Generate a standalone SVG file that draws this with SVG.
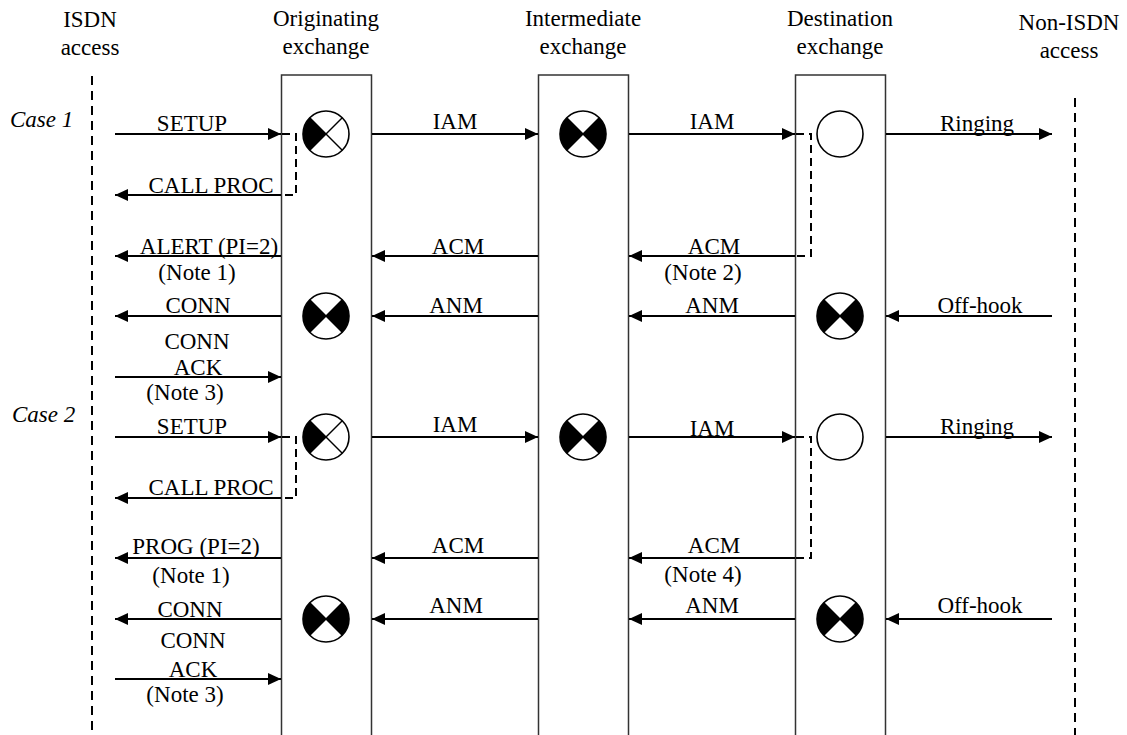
<svg xmlns="http://www.w3.org/2000/svg" width="1127" height="735" viewBox="0 0 1127 735">
<style>
text{font-family:"Liberation Serif","Times New Roman",serif;font-size:23px;fill:#000}
.c{text-anchor:middle}
.it{font-style:italic}
.box{fill:none;stroke:#333;stroke-width:1.5}
.life{stroke:#000;stroke-width:2;stroke-dasharray:9 6;fill:none}
.msg{stroke:#000;stroke-width:2.2;fill:none;marker-end:url(#ah)}
.dash{stroke:#000;stroke-width:2;stroke-dasharray:8 5;fill:none}
.sym{fill:#fff;stroke:#000;stroke-width:1.6}
.x{stroke:#000;stroke-width:1.4}
.w{fill:#000}
</style>
<defs>
<marker id="ah" markerUnits="userSpaceOnUse" markerWidth="13" markerHeight="12" refX="13" refY="6" orient="auto">
<path d="M0,0 L13,6 L0,12 Z" fill="#000"/>
</marker>
<g id="symHalf">
<circle cx="0" cy="0" r="23" class="sym"/>
<path class="w" d="M0,0 L-16.26,-16.26 A23,23 0 0 0 -16.26,16.26 Z"/>
<line class="x" x1="-16.26" y1="-16.26" x2="16.26" y2="16.26"/>
<line class="x" x1="-16.26" y1="16.26" x2="16.26" y2="-16.26"/>
</g>
<g id="symFull">
<circle cx="0" cy="0" r="23" class="sym"/>
<path class="w" d="M0,0 L-16.26,-16.26 A23,23 0 0 0 -16.26,16.26 Z"/>
<path class="w" d="M0,0 L16.26,-16.26 A23,23 0 0 1 16.26,16.26 Z"/>
<line class="x" x1="-16.26" y1="-16.26" x2="16.26" y2="16.26"/>
<line class="x" x1="-16.26" y1="16.26" x2="16.26" y2="-16.26"/>
</g>
<g id="symEmpty">
<circle cx="0" cy="0" r="23" class="sym"/>
</g>
</defs>
<rect width="1127" height="735" fill="#fff"/>

<g id="isdn-access">
<text class="c" x="90" y="27">ISDN</text>
<text class="c" x="90" y="55">access</text>
<line class="life" x1="92" y1="76" x2="92" y2="735"/>
</g>
<g id="originating-exchange">
<text class="c" x="326" y="26">Originating</text>
<text class="c" x="326" y="54">exchange</text>
<path class="box" d="M281.5,736 V75 H371.5 V736"/>
<use href="#symHalf" x="326" y="134"/>
<use href="#symFull" x="326" y="316"/>
<use href="#symHalf" x="326" y="437"/>
<use href="#symFull" x="326" y="619"/>
</g>
<g id="intermediate-exchange">
<text class="c" x="583" y="26">Intermediate</text>
<text class="c" x="583" y="54">exchange</text>
<path class="box" d="M538.5,736 V75 H628.5 V736"/>
<use href="#symFull" x="583" y="134"/>
<use href="#symFull" x="583" y="437"/>
</g>
<g id="destination-exchange">
<text class="c" x="840" y="26">Destination</text>
<text class="c" x="840" y="54">exchange</text>
<path class="box" d="M795.5,736 V75 H885.5 V736"/>
<use href="#symEmpty" x="840" y="134"/>
<use href="#symFull" x="840" y="316"/>
<use href="#symEmpty" x="840" y="437"/>
<use href="#symFull" x="840" y="619"/>
</g>
<g id="non-isdn-access">
<text class="c" x="1069" y="30">Non-ISDN</text>
<text class="c" x="1069" y="58">access</text>
<line class="life" x1="1075" y1="98" x2="1075" y2="735"/>
</g>
<g id="case-labels">
<text class="it" x="10" y="127">Case 1</text>
<text class="it" x="12" y="422">Case 2</text>
</g>

<g id="connectors">
<!-- Case 1 -->
<line class="msg" x1="115" y1="134" x2="281" y2="134"/>
<line class="msg" x1="372" y1="134" x2="538" y2="134"/>
<line class="msg" x1="629" y1="134" x2="795" y2="134"/>
<line class="msg" x1="886" y1="134" x2="1052" y2="134"/>
<path class="dash" d="M282,134 H296 V195 H282"/>
<line class="msg" x1="281" y1="195" x2="115" y2="195"/>
<line class="msg" x1="281" y1="256" x2="115" y2="256"/>
<line class="msg" x1="538" y1="256" x2="372" y2="256"/>
<line class="msg" x1="795" y1="256" x2="629" y2="256"/>
<path class="dash" d="M796,134 H811 V256 H796"/>
<line class="msg" x1="281" y1="316" x2="115" y2="316"/>
<line class="msg" x1="538" y1="316" x2="372" y2="316"/>
<line class="msg" x1="795" y1="316" x2="629" y2="316"/>
<line class="msg" x1="1052" y1="316" x2="886" y2="316"/>
<line class="msg" x1="115" y1="377" x2="281" y2="377"/>
<!-- Case 2 -->
<line class="msg" x1="115" y1="437" x2="281" y2="437"/>
<line class="msg" x1="372" y1="437" x2="538" y2="437"/>
<line class="msg" x1="629" y1="437" x2="795" y2="437"/>
<line class="msg" x1="886" y1="437" x2="1052" y2="437"/>
<path class="dash" d="M282,437 H296 V498 H282"/>
<line class="msg" x1="281" y1="498" x2="115" y2="498"/>
<line class="msg" x1="281" y1="558" x2="115" y2="558"/>
<line class="msg" x1="538" y1="558" x2="372" y2="558"/>
<line class="msg" x1="795" y1="558" x2="629" y2="558"/>
<path class="dash" d="M796,437 H811 V558 H796"/>
<line class="msg" x1="281" y1="619" x2="115" y2="619"/>
<line class="msg" x1="538" y1="619" x2="372" y2="619"/>
<line class="msg" x1="795" y1="619" x2="629" y2="619"/>
<line class="msg" x1="1052" y1="619" x2="886" y2="619"/>
<line class="msg" x1="115" y1="679" x2="281" y2="679"/>
</g>

<g id="labels">
<text class="c" x="192" y="131">SETUP</text>
<text class="c" x="211" y="193">CALL PROC</text>
<text class="c" x="209" y="254">ALERT (PI=2)</text>
<text class="c" x="197" y="280">(Note 1)</text>
<text class="c" x="198" y="313">CONN</text>
<text class="c" x="197" y="349">CONN</text>
<text class="c" x="198" y="375">ACK</text>
<text class="c" x="185" y="400">(Note 3)</text>
<text class="c" x="455" y="129">IAM</text>
<text class="c" x="712" y="129">IAM</text>
<text class="c" x="977" y="131">Ringing</text>
<text class="c" x="458" y="254">ACM</text>
<text class="c" x="714" y="254">ACM</text>
<text class="c" x="703" y="280">(Note 2)</text>
<text class="c" x="456" y="313">ANM</text>
<text class="c" x="712" y="313">ANM</text>
<text class="c" x="980" y="313">Off-hook</text>

<text class="c" x="192" y="434">SETUP</text>
<text class="c" x="211" y="495">CALL PROC</text>
<text class="c" x="196" y="554">PROG (PI=2)</text>
<text class="c" x="191" y="583">(Note 1)</text>
<text class="c" x="190" y="617">CONN</text>
<text class="c" x="193" y="648">CONN</text>
<text class="c" x="193" y="677">ACK</text>
<text class="c" x="185" y="702">(Note 3)</text>
<text class="c" x="455" y="432">IAM</text>
<text class="c" x="712" y="436">IAM</text>
<text class="c" x="977" y="434">Ringing</text>
<text class="c" x="458" y="553">ACM</text>
<text class="c" x="714" y="553">ACM</text>
<text class="c" x="703" y="582">(Note 4)</text>
<text class="c" x="456" y="613">ANM</text>
<text class="c" x="712" y="613">ANM</text>
<text class="c" x="980" y="613">Off-hook</text>
</g>
</svg>
